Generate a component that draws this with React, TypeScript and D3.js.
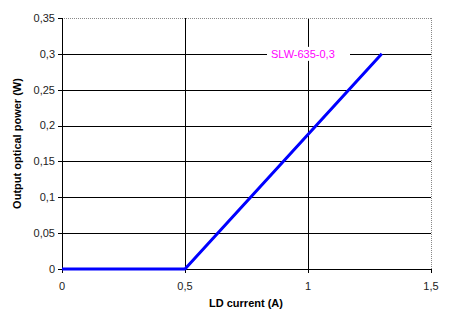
import React from "react";
import * as d3 from "d3";

const current = [0, 0.5, 1.3];
const power = [0, 0, 0.3];
const xTicks = [0, 0.5, 1, 1.5];
const yTicks = [0, 0.05, 0.1, 0.15, 0.2, 0.25, 0.3, 0.35];
const seriesName = "SLW-635-0,3";

const fmt = (v: number) => String(v).replace(".", ",");
const crisp = (v: number) => Math.round(v) + 0.5;

export default function App() {
  const x = d3.scaleLinear().domain([0, 1.5]).range([62, 431]);
  const y = d3.scaleLinear().domain([0, 0.35]).range([269, 18]);
  const pts: [number, number][] = current.map((c, i) => [c, power[i]]);
  const line = d3
    .line<[number, number]>()
    .x((d) => x(d[0]))
    .y((d) => y(d[1]));

  const font = "Arial, 'Liberation Sans', sans-serif";

  return (
    <svg
      width={451}
      height={322}
      style={{ position: "absolute", left: 0, top: 0 }}
      fontFamily={font}
    >
      <rect width={451} height={322} fill="#fff" />
      {/* horizontal grid */}
      {yTicks.slice(1, -1).map((t) => (
        <line key={t} x1={x(0)} x2={x(1.5)} y1={crisp(y(t))} y2={crisp(y(t))} stroke="#000" strokeWidth={1} />
      ))}
      {/* vertical grid */}
      {xTicks.slice(1, -1).map((t) => (
        <line key={t} x1={crisp(x(t))} x2={crisp(x(t))} y1={y(0)} y2={y(0.35)} stroke="#000" strokeWidth={1} />
      ))}
      {/* top and right dotted border */}
      <line x1={x(0)} x2={x(1.5)} y1={crisp(y(0.35))} y2={crisp(y(0.35))} stroke="#888" strokeDasharray="1,1" />
      <line x1={crisp(x(1.5))} x2={crisp(x(1.5))} y1={y(0.35)} y2={y(0)} stroke="#888" strokeDasharray="1,1" />
      {/* axes */}
      <line x1={crisp(x(0))} x2={crisp(x(0))} y1={y(0.35)} y2={crisp(y(0))} stroke="#000" />
      <line x1={x(0) - 4} x2={crisp(x(1.5))} y1={crisp(y(0))} y2={crisp(y(0))} stroke="#000" />
      {yTicks.map((t) => (
        <g key={t}>
          <line x1={x(0) - 4} x2={x(0)} y1={crisp(y(t))} y2={crisp(y(t))} stroke="#000" />
          <text x={55} y={y(t)} dy="0.35em" textAnchor="end" fontSize={11} fill="#222">
            {fmt(t)}
          </text>
        </g>
      ))}
      {xTicks.map((t) => (
        <g key={t}>
          <line x1={crisp(x(t))} x2={crisp(x(t))} y1={y(0)} y2={y(0) + 4} stroke="#000" />
          <text x={x(t)} y={290} textAnchor="middle" fontSize={11} fill="#222">
            {fmt(t)}
          </text>
        </g>
      ))}
      {/* series label */}
      <rect x={267} y={y(0.3) - 7} width={83} height={14} fill="#fff" />
      <text x={271} y={y(0.3)} dy="0.35em" fontSize={11} fill="#ff00ff">
        {seriesName}
      </text>
      <path d={line(pts) ?? ""} fill="none" stroke="#0000ff" strokeWidth={3} strokeLinejoin="round" />
      {/* axis titles */}
      <text x={246} y={307} textAnchor="middle" fontSize={11} fontWeight="bold" fill="#000">
        LD current (A)
      </text>
      <text
        transform={`translate(21,${(y(0) + y(0.35)) / 2}) rotate(-90)`}
        textAnchor="middle"
        fontSize={11}
        fontWeight="bold"
        fill="#000"
      >
        Output optical power (W)
      </text>
    </svg>
  );
}
